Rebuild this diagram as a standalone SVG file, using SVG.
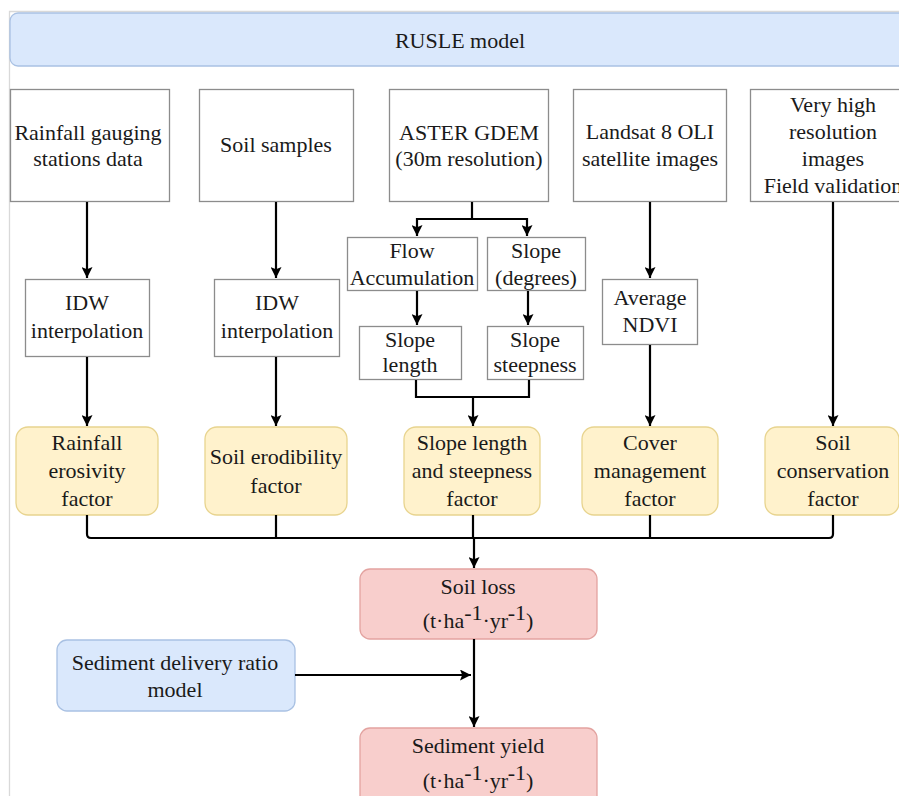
<svg xmlns="http://www.w3.org/2000/svg" width="899" height="796" viewBox="0 0 899 796" font-family="'Liberation Serif', 'Times New Roman', serif">
<defs>
<style>
text{font-family:'Liberation Serif','Times New Roman',serif;font-size:22px;fill:#1a1a1a;text-anchor:middle}
.box{fill:#ffffff;stroke:#8c8c8c;stroke-width:1.3}
.yel{fill:#fff2cc;stroke:#e8d48f;stroke-width:1.3}
.red{fill:#f8cecc;stroke:#e3a3a0;stroke-width:1.3}
.blu{fill:#dae8fc;stroke:#a9c1e3;stroke-width:1.3}
.ln{fill:none;stroke:#000;stroke-width:2.2}
</style>
<marker id="ah" viewBox="0 0 10 10" refX="10" refY="5" markerWidth="5" markerHeight="5" orient="auto" markerUnits="strokeWidth">
<path d="M0,0 L10,5 L0,10 L2,5 Z" fill="#000"/>
</marker>
</defs>
<rect x="0" y="0" width="899" height="796" fill="#fff"/>
<path d="M9.5,796 V11.5 H899" fill="none" stroke="#d9d9d9" stroke-width="1.3"/>

<g id="banner">
<rect x="10" y="13" width="900" height="53" rx="8" class="blu"/>
<text x="460" y="48" font-family="Times New Roman">RUSLE model</text>
</g>

<g id="rainfall-data">
<rect x="10.5" y="89.5" width="159" height="112" class="box"/>
<text x="88" y="140" font-family="Times New Roman">Rainfall gauging</text>
<text x="88" y="166" font-family="Times New Roman">stations data</text>
</g>
<g id="soil-samples">
<rect x="199.5" y="89.5" width="154" height="112" class="box"/>
<text x="276" y="152" font-family="Times New Roman">Soil samples</text>
</g>
<g id="aster">
<rect x="389.5" y="89.5" width="159" height="112" class="box"/>
<text x="469" y="140" font-family="Times New Roman">ASTER GDEM</text>
<text x="469" y="166" font-family="Times New Roman">(30m resolution)</text>
</g>
<g id="landsat">
<rect x="573.5" y="89.5" width="153" height="112" class="box"/>
<text x="650" y="139" font-family="Times New Roman">Landsat 8 OLI</text>
<text x="650" y="166" font-family="Times New Roman">satellite images</text>
</g>
<g id="vhr">
<rect x="750.5" y="89.5" width="160" height="112" class="box"/>
<text x="833" y="112" font-family="Times New Roman">Very high</text>
<text x="833" y="139" font-family="Times New Roman">resolution</text>
<text x="833" y="166" font-family="Times New Roman">images</text>
<text x="833" y="193" font-family="Times New Roman">Field validation</text>
</g>

<g id="idw1">
<rect x="25.5" y="279.5" width="124" height="77" class="box"/>
<text x="87" y="310" font-family="Times New Roman">IDW</text>
<text x="87" y="338" font-family="Times New Roman">interpolation</text>
</g>
<g id="idw2">
<rect x="214.5" y="279.5" width="125" height="77" class="box"/>
<text x="277" y="310" font-family="Times New Roman">IDW</text>
<text x="277" y="338" font-family="Times New Roman">interpolation</text>
</g>
<g id="flow-acc">
<rect x="347.5" y="237.5" width="130" height="53" class="box"/>
<text x="412" y="258" font-family="Times New Roman">Flow</text>
<text x="412" y="285" font-family="Times New Roman">Accumulation</text>
</g>
<g id="slope-deg">
<rect x="487.5" y="237.5" width="98" height="53" class="box"/>
<text x="536" y="258" font-family="Times New Roman">Slope</text>
<text x="536" y="285" font-family="Times New Roman">(degrees)</text>
</g>
<g id="slope-length">
<rect x="359.5" y="326.5" width="102" height="53" class="box"/>
<text x="410" y="347" font-family="Times New Roman">Slope</text>
<text x="410" y="372" font-family="Times New Roman">length</text>
</g>
<g id="slope-steep">
<rect x="487.5" y="326.5" width="96" height="53" class="box"/>
<text x="535" y="347" font-family="Times New Roman">Slope</text>
<text x="535" y="372" font-family="Times New Roman">steepness</text>
</g>
<g id="ndvi">
<rect x="602.5" y="279.5" width="95" height="65" class="box"/>
<text x="650" y="305" font-family="Times New Roman">Average</text>
<text x="650" y="332" font-family="Times New Roman">NDVI</text>
</g>

<g id="r-factor">
<rect x="16" y="427" width="142" height="88" rx="12" class="yel"/>
<text x="87" y="450" font-family="Times New Roman">Rainfall</text>
<text x="87" y="478" font-family="Times New Roman">erosivity</text>
<text x="87" y="506" font-family="Times New Roman">factor</text>
</g>
<g id="k-factor">
<rect x="205" y="427" width="142" height="88" rx="12" class="yel"/>
<text x="276" y="464" font-family="Times New Roman">Soil erodibility</text>
<text x="276" y="493" font-family="Times New Roman">factor</text>
</g>
<g id="ls-factor">
<rect x="404" y="427" width="136" height="88" rx="12" class="yel"/>
<text x="472" y="450" font-family="Times New Roman">Slope length</text>
<text x="472" y="478" font-family="Times New Roman">and steepness</text>
<text x="472" y="506" font-family="Times New Roman">factor</text>
</g>
<g id="c-factor">
<rect x="582" y="427" width="136" height="88" rx="12" class="yel"/>
<text x="650" y="450" font-family="Times New Roman">Cover</text>
<text x="650" y="478" font-family="Times New Roman">management</text>
<text x="650" y="506" font-family="Times New Roman">factor</text>
</g>
<g id="p-factor">
<rect x="765" y="427" width="134" height="88" rx="12" class="yel"/>
<text x="833" y="450" font-family="Times New Roman">Soil</text>
<text x="833" y="478" font-family="Times New Roman">conservation</text>
<text x="833" y="506" font-family="Times New Roman">factor</text>
</g>

<g id="soil-loss">
<rect x="360" y="569" width="237" height="70" rx="10" class="red"/>
<text x="478" y="594" font-family="Times New Roman">Soil loss</text>
<text x="478" y="628" font-family="Times New Roman">(t·ha<tspan dy="-8">-1</tspan><tspan dy="8">·yr</tspan><tspan dy="-8">-1</tspan><tspan dy="8">)</tspan></text>
</g>
<g id="sdr">
<rect x="57" y="640" width="238" height="71" rx="10" class="blu"/>
<text x="175" y="670" font-family="Times New Roman">Sediment delivery ratio</text>
<text x="175" y="697" font-family="Times New Roman">model</text>
</g>
<g id="sediment-yield">
<rect x="360" y="728" width="237" height="80" rx="10" class="red"/>
<text x="478" y="753" font-family="Times New Roman">Sediment yield</text>
<text x="478" y="788" font-family="Times New Roman">(t·ha<tspan dy="-8">-1</tspan><tspan dy="8">·yr</tspan><tspan dy="-8">-1</tspan><tspan dy="8">)</tspan></text>
</g>

<g id="connectors">
<path class="ln" d="M87,202 V278" marker-end="url(#ah)"/>
<path class="ln" d="M276,202 V278" marker-end="url(#ah)"/>
<path class="ln" d="M650,202 V278" marker-end="url(#ah)"/>
<path class="ln" d="M833,202 V426" marker-end="url(#ah)"/>
<path class="ln" d="M87,357 V426" marker-end="url(#ah)"/>
<path class="ln" d="M276,357 V426" marker-end="url(#ah)"/>
<path class="ln" d="M650,345 V426" marker-end="url(#ah)"/>
<path class="ln" d="M472,202 V219"/>
<path class="ln" d="M472,219 H417 V236" marker-end="url(#ah)"/>
<path class="ln" d="M472,219 H527 V236" marker-end="url(#ah)"/>
<path class="ln" d="M417,291 V325" marker-end="url(#ah)"/>
<path class="ln" d="M528,291 V325" marker-end="url(#ah)"/>
<path class="ln" d="M416,380 V397 H529 V380"/>
<path class="ln" d="M473,397 V426" marker-end="url(#ah)"/>
<path class="ln" d="M87,515 V534 Q87,538 91,538 H829 Q833,538 833,534 V515"/>
<path class="ln" d="M276,515 V538"/>
<path class="ln" d="M473,515 V538"/>
<path class="ln" d="M650,515 V538"/>
<path class="ln" d="M474,538 V568" marker-end="url(#ah)"/>
<path class="ln" d="M474,639 V727" marker-end="url(#ah)"/>
<path class="ln" d="M295,675 H471" marker-end="url(#ah)"/>
</g>
</svg>
